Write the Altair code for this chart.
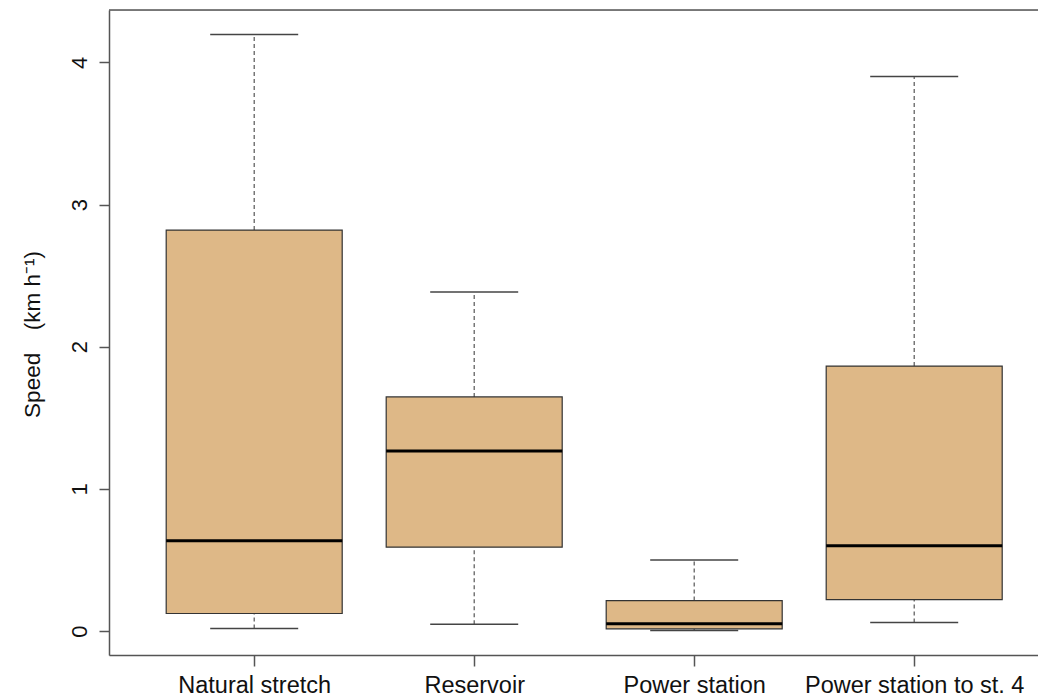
import altair as alt
import pandas as pd

# Data (box-plot statistics)
categories = ["Natural stretch", "Reservoir", "Power station", "Power station to st. 4"]
lower_whisker = [0.018, 0.049, 0.004, 0.060]
q1 = [0.124, 0.590, 0.016, 0.222]
median = [0.635, 1.267, 0.051, 0.600]
q3 = [2.820, 1.647, 0.215, 1.864]
upper_whisker = [4.195, 2.385, 0.500, 3.900]
y_ticks = [0, 1, 2, 3, 4]

df = pd.DataFrame({
    "cat": categories,
    "pos": list(range(1, len(categories) + 1)),
    "lo": lower_whisker,
    "q1": q1,
    "med": median,
    "q3": q3,
    "hi": upper_whisker,
})

W, H = 929, 645
xdom = [0.34, 0.34 + W / 220.0]
ydom = [-0.168, 4.368]

label_js = "[" + ",".join("'" + c + "'" for c in categories) + "]"

FONT = "Liberation Sans"

xscale = alt.Scale(domain=xdom, nice=False, zero=False)
yscale = alt.Scale(domain=ydom, nice=False, zero=False)

x_axis = alt.Axis(
    values=list(range(1, len(categories) + 1)),
    labelExpr=label_js + "[datum.value - 1]",
    title=None,
    grid=False,
    tickSize=11,
    tickColor="#555555",
    domainColor="#555555",
    domainWidth=1.5,
    tickWidth=1.5,
    labelPadding=7,
    labelFont=FONT,
    labelFontSize=23.5,
    labelColor="#111111",
    labelAngle=0,
    labelLimit=0,
    labelOverlap=False,
    labelFlush=False,
)

y_axis = alt.Axis(
    values=y_ticks,
    format="d",
    title="Speed\u2003(km h\u207b\u00b9)",
    grid=False,
    tickSize=10,
    tickColor="#555555",
    domainColor="#555555",
    domainWidth=1.5,
    tickWidth=1.5,
    labelAngle=270,
    labelAlign="center",
    labelBaseline="alphabetic",
    labelPadding=13,
    labelFont=FONT,
    labelFontSize=22,
    labelColor="#111111",
    labelOverlap=False,
    labelFlush=False,
    titleFont=FONT,
    titleFontSize=22.5,
    titleFontWeight="normal",
    titleColor="#111111",
    titleAngle=270,
    titleAlign="center",
    titleBaseline="alphabetic",
    titleX=-70,
    titleY=324,
)

base = alt.Chart(df).transform_calculate(
    xl="datum.pos - 0.4",
    xr="datum.pos + 0.4",
    cl="datum.pos - 0.2",
    cr="datum.pos + 0.2",
)

upper_w = base.mark_rule(color="#555555", strokeWidth=1.2, strokeDash=[4, 3]).encode(
    x=alt.X("pos:Q", scale=xscale, axis=x_axis),
    y=alt.Y("q3:Q", scale=yscale, axis=y_axis),
    y2="hi:Q",
)
lower_w = base.mark_rule(color="#555555", strokeWidth=1.2, strokeDash=[4, 3]).encode(
    x=alt.X("pos:Q", scale=xscale),
    y=alt.Y("lo:Q", scale=yscale),
    y2="q1:Q",
)
cap_hi = base.mark_rule(color="#444444", strokeWidth=1.5).encode(
    x=alt.X("cl:Q", scale=xscale),
    x2="cr:Q",
    y=alt.Y("hi:Q", scale=yscale),
)
cap_lo = base.mark_rule(color="#444444", strokeWidth=1.5).encode(
    x=alt.X("cl:Q", scale=xscale),
    x2="cr:Q",
    y=alt.Y("lo:Q", scale=yscale),
)
boxes = base.mark_rect(fill="#DEB887", stroke="#333333", strokeWidth=1.2).encode(
    x=alt.X("xl:Q", scale=xscale),
    x2="xr:Q",
    y=alt.Y("q1:Q", scale=yscale),
    y2="q3:Q",
)
medians = base.mark_rule(color="#000000", strokeWidth=3).encode(
    x=alt.X("xl:Q", scale=xscale),
    x2="xr:Q",
    y=alt.Y("med:Q", scale=yscale),
)
top_border = alt.Chart(pd.DataFrame({"a": [0]})).mark_rule(
    color="#555555", strokeWidth=1.5
).encode(x=alt.value(0), x2=alt.value(W), y=alt.value(0))

chart = (
    alt.layer(upper_w, lower_w, cap_hi, cap_lo, boxes, medians, top_border)
    .properties(
        width=W,
        height=H,
        autosize=alt.AutoSizeParams(type="none"),
        padding={"left": 101, "top": 2, "right": 0, "bottom": 41},
    )
    .configure_view(stroke=None)
    .configure(background="white")
)

chart.save("out.html", embed_options={"renderer": "svg", "actions": False})
